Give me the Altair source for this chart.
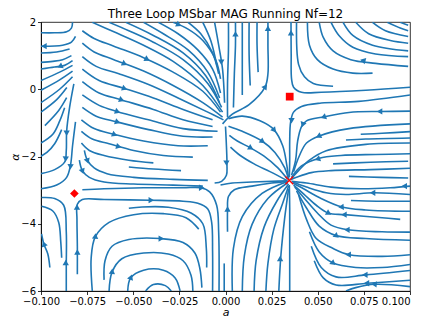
import altair as alt
import pandas as pd

# ---------------- streamlines, (a, alpha) points ----------------
FAN_LEFT = [
    [(-0.0829, 1.99), (-0.0835, 1.82), (-0.0861, 1.71), (-0.0926, 1.68), (-0.1, 1.68)],
    [(-0.0813, 1.57), (-0.0835, 1.40), (-0.0883, 1.31), (-0.1, 1.28)],
    [(-0.0845, 1.20), (-0.0915, 1.11), (-0.1, 1.08)],
    [(-0.0835, 1.0), (-0.0883, 0.88), (-0.0936, 0.83), (-0.1, 0.80)],
    [(-0.0829, 0.85), (-0.0872, 0.71), (-0.0926, 0.66), (-0.1, 0.60)],
    [(-0.0829, 0.71), (-0.0899, 0.51), (-0.1, 0.26)],
    [(-0.0829, 0.54), (-0.0899, 0.28), (-0.1, -0.03)],
    [(-0.0829, 0.37), (-0.0899, 0.0), (-0.1, -0.40)],
    [(-0.086, 0.05), (-0.0915, -0.31), (-0.1, -0.68)],
    [(-0.0861, -0.25), (-0.0904, -0.63), (-0.0979, -1.08)],
    [(-0.0872, -0.55), (-0.0899, -0.95), (-0.0936, -1.34), (-0.1, -1.60)],
    [(-0.0888, -1.20), (-0.0926, -1.62), (-0.0968, -1.88), (-0.1, -1.99)],
    [(-0.0822, 0.16), (-0.0845, -0.54), (-0.0861, -1.25), (-0.0863, -1.82), (-0.0872, -2.17), (-0.0926, -2.39), (-0.1, -2.51)],
    [(-0.0813, -0.97), (-0.0829, -1.68), (-0.084, -2.25), (-0.0861, -2.62), (-0.0915, -2.85), (-0.1, -2.96)],
]

SWEEP = [
    [(-0.0284, 1.99), (-0.0203, 1.79), (-0.0123, 1.45), (-0.0054, 0.88), (-0.0027, 0.31)],
    [(-0.0364, 1.99), (-0.0257, 1.65), (-0.015, 1.17), (-0.007, 0.60), (-0.0027, -0.11)],
    [(-0.0444, 1.99), (-0.0337, 1.65), (-0.0203, 1.17), (-0.0096, 0.51), (-0.0032, -0.26)],
    [(-0.054, 1.99), (-0.0391, 1.60), (-0.023, 1.08), (-0.0107, 0.40), (-0.0032, -0.40)],
    [(-0.0631, 1.99), (-0.0524, 1.74), (-0.0391, 1.40), (-0.023, 0.88), (-0.0096, 0.17), (-0.0021, -0.54)],
    [(-0.0722, 1.99), (-0.0605, 1.71), (-0.0444, 1.31), (-0.0284, 0.83), (-0.0123, 0.11), (-0.0016, -0.68)],
    [(-0.0203, 1.99), (-0.0134, 1.65), (-0.007, 1.08), (-0.0037, 0.46)],
    [(-0.0123, 1.99), (-0.008, 1.45), (-0.0048, 0.74)],
    [(-0.0059, 1.99), (-0.0037, 1.31), (-0.0016, 0.60), (-0.0005, -0.40)],
    [(-0.0776, 1.74), (-0.0712, 1.51), (-0.0605, 1.28), (-0.0444, 0.94), (-0.0284, 0.51), (-0.0123, -0.06), (-0.0027, -0.68)],
    [(-0.0776, 1.37), (-0.0712, 1.11), (-0.0605, 0.88), (-0.0444, 0.54), (-0.0284, 0.11), (-0.0123, -0.40), (-0.0016, -0.83)],
    [(-0.0776, 0.97), (-0.0701, 0.68), (-0.0578, 0.46), (-0.0417, 0.14), (-0.0257, -0.26), (-0.0096, -0.68), (-0.0011, -0.91)],
    [(-0.0776, 0.60), (-0.0685, 0.26), (-0.0551, 0.03), (-0.0391, -0.26), (-0.023, -0.60), (-0.007, -0.91)],
    [(-0.0776, 0.23), (-0.0685, -0.11), (-0.0567, -0.31), (-0.0391, -0.60), (-0.023, -0.91), (-0.007, -1.11)],
    [(-0.0776, -0.17), (-0.0685, -0.48), (-0.0589, -0.66), (-0.0417, -0.91), (-0.023, -1.17), (-0.0043, -1.25)],
    [(-0.0776, -0.54), (-0.0701, -0.80), (-0.0589, -0.97), (-0.0417, -1.20), (-0.023, -1.40), (-0.007, -1.42)],
    [(-0.0781, -0.91), (-0.0712, -1.17), (-0.0605, -1.34), (-0.0444, -1.54), (-0.0257, -1.68), (-0.0096, -1.68)],
    [(-0.0781, -1.25), (-0.0722, -1.48), (-0.0631, -1.62), (-0.0498, -1.82), (-0.0337, -1.97), (-0.0177, -2.02)],
    [(-0.0781, -1.60), (-0.0738, -1.82), (-0.0658, -1.97), (-0.0524, -2.11), (-0.0391, -2.19)],
    [(-0.0524, -2.31), (-0.0391, -2.37), (-0.0241, -2.42)],
    [(-0.0765, -1.82), (-0.0749, -2.11), (-0.0712, -2.34), (-0.0642, -2.51), (-0.0498, -2.62), (-0.0284, -2.68), (-0.0096, -2.71)],
    [(-0.0792, -2.11), (-0.0776, -2.42), (-0.0738, -2.62), (-0.0658, -2.76), (-0.0498, -2.82), (-0.0284, -2.85), (-0.0123, -2.88)],
]

SADDLE = [
    [(-0.0776, -2.99), (-0.0658, -2.96), (-0.0444, -2.93), (-0.023, -2.93), (-0.0134, -2.93), (-0.0086, -3.05),
     (-0.0048, -3.45), (-0.0037, -4.25), (-0.0035, -6.0)],
    [(-0.0803, -5.50), (-0.0803, -4.67), (-0.0805, -3.87), (-0.0803, -3.42), (-0.0776, -3.28), (-0.0658, -3.28),
     (-0.0407, -3.30), (-0.023, -3.33), (-0.015, -3.39), (-0.0096, -3.56), (-0.0075, -3.96), (-0.007, -4.81), (-0.007, -6.0)],
]

UPPER_MID = [
    [(-0.0016, -1.03), (0.0037, -0.74), (0.0128, -0.46), (0.0214, 0.06), (0.023, 0.46), (0.023, 1.31), (0.023, 1.99)],
    [(0.0011, -0.83), (0.0011, 0.17), (0.0016, 1.17), (0.0016, 1.99)],
    [(0.0043, -0.54), (0.0048, 0.46), (0.0054, 1.31), (0.0054, 1.99)],
    [(0.0091, -0.17), (0.0091, 0.74), (0.0091, 1.60), (0.0091, 1.99)],
    [(0.0134, 0.11), (0.0128, 1.03), (0.0128, 1.99)],
    [(0.0177, 0.51), (0.0171, 1.31), (0.0171, 1.99)],
]

UPPER_RIGHT = [
    [(0.1, 0.06), (0.076, -0.03), (0.0519, -0.09), (0.0412, -0.09), (0.0369, 0.06), (0.0358, 0.31), (0.0356, 1.03), (0.0355, 2.0)],
    [(0.0385, 1.99), (0.0396, 0.74), (0.0428, 0.37), (0.0476, 0.17), (0.0583, 0.09)],
    [(0.0444, 1.99), (0.0455, 1.31), (0.0498, 0.88), (0.0583, 0.60), (0.069, 0.48), (0.0797, 0.48)],
    [(0.0508, 1.99), (0.053, 1.54), (0.0583, 1.14), (0.0679, 0.88), (0.0813, 0.77), (0.099, 0.68)],
    [(0.0572, 1.99), (0.0615, 1.60), (0.069, 1.25), (0.0813, 1.05), (0.099, 0.97)],
    [(0.0637, 1.99), (0.069, 1.60), (0.0797, 1.31), (0.099, 1.14)],
    [(0.0706, 1.99), (0.0776, 1.65), (0.0893, 1.45), (0.099, 1.37)],
    [(0.0797, 1.99), (0.0867, 1.74), (0.099, 1.57)],
    [(0.0877, 1.99), (0.0947, 1.82), (0.099, 1.74)],
    [(0.0947, 1.99), (0.099, 1.90)],
    [(0.1, -0.17), (0.0722, -0.36), (0.0519, -0.41), (0.0412, -0.51), (0.0369, -0.68), (0.0353, -0.97), (0.0348, -1.54), (0.0348, -2.11), (0.0346, -2.62)],
    [(0.1, -0.65), (0.084, -0.66), (0.0669, -0.69), (0.0535, -0.82), (0.0439, -0.94), (0.0412, -1.11), (0.0391, -1.54), (0.038, -2.11), (0.0358, -2.56)],
    [(0.1, -1.03), (0.0669, -1.17), (0.0508, -1.39), (0.0439, -1.60), (0.0401, -1.97), (0.0369, -2.45)],
    [(0.1, -1.26), (0.0849, -1.31), (0.0733, -1.34)],
    [(0.1, -1.45), (0.076, -1.48), (0.0653, -1.51)],
    [(0.1, -1.60), (0.076, -1.64), (0.0546, -1.83), (0.0455, -2.11), (0.0391, -2.45), (0.0358, -2.65)],
]

JUNCTION_DOWN = [
    [(0.0016, -0.88), (0.0091, -0.80), (0.0187, -0.94), (0.0262, -1.20), (0.031, -1.68), (0.0332, -2.25), (0.0342, -2.68)],
    [(0.0016, -1.10), (0.0091, -1.25), (0.0198, -1.54), (0.0268, -1.88), (0.0321, -2.34), (0.0342, -2.68)],
    [(0.0021, -1.37), (0.0064, -1.54), (0.0134, -1.74), (0.0209, -1.99), (0.0284, -2.34), (0.0337, -2.68)],
    [(0.0027, -1.72), (0.008, -1.97), (0.0155, -2.22), (0.0241, -2.45), (0.0332, -2.71)],
    [(0.0, -1.11), (0.0005, -1.68), (0.0008, -2.25), (0.0005, -2.56), (-0.0021, -2.74), (-0.0059, -2.79)],
    [(-0.0027, -2.85), (0.0037, -2.79), (0.0144, -2.76), (0.0251, -2.74), (0.0337, -2.72)],
    [(0.0037, -6.0), (0.0043, -4.73), (0.0091, -3.79), (0.0198, -3.10), (0.0337, -2.74)],
    [(0.0091, -6.0), (0.0102, -4.96), (0.0144, -4.02), (0.023, -3.25), (0.0337, -2.78)],
    [(0.0155, -6.0), (0.0166, -5.10), (0.0209, -4.10), (0.0278, -3.33), (0.0342, -2.82)],
    [(0.0219, -6.0), (0.023, -5.18), (0.0262, -4.16), (0.031, -3.39), (0.0342, -2.88)],
    [(0.0289, -6.0), (0.03, -4.96), (0.0321, -3.82), (0.0342, -2.96)],
    [(0.0348, -6.0), (0.0348, -4.67), (0.0348, -3.53), (0.0346, -2.85)],
    [(-0.0007, -6.0), (-0.0007, -5.18)],
    [(0.0011, -4.24), (0.0011, -3.59), (0.0016, -3.19), (0.0048, -2.99), (0.0144, -2.88), (0.0251, -2.79), (0.0337, -2.74)],
]

RIGHT_LOWER = [
    [(0.1, -1.92), (0.0813, -1.94), (0.0626, -1.97), (0.0508, -2.05), (0.0412, -2.28), (0.0358, -2.62)],
    [(0.099, -2.14), (0.0786, -2.17), (0.0583, -2.22)],
    [(0.1, -2.35), (0.0786, -2.39), (0.0572, -2.42), (0.0465, -2.48), (0.0385, -2.62), (0.0353, -2.69)],
    [(0.099, -2.64), (0.084, -2.62), (0.0669, -2.59)],
    [(0.1, -2.88), (0.0893, -2.93), (0.0733, -2.96), (0.0572, -2.91), (0.0439, -2.79), (0.0358, -2.74)],
    [(0.1, -3.13), (0.0802, -3.08), (0.0653, -3.13), (0.0546, -3.08), (0.0439, -2.91), (0.0364, -2.76)],
    [(0.1, -3.33), (0.082, -3.33), (0.068, -3.31)],
    [(0.1, -3.63), (0.076, -3.59), (0.0631, -3.50), (0.0508, -3.22), (0.0423, -2.96), (0.0364, -2.79)],
    [(0.0947, -3.87), (0.0849, -3.82), (0.0647, -3.73), (0.0556, -3.68), (0.0492, -3.45), (0.0423, -3.11), (0.0369, -2.85)],
    [(0.1, -4.25), (0.0849, -4.24), (0.0663, -4.18), (0.0572, -4.04), (0.0498, -3.68), (0.0428, -3.25), (0.0375, -2.91)],
    [(0.1, -4.49), (0.076, -4.44), (0.0599, -4.35), (0.0508, -4.07), (0.0439, -3.53), (0.0385, -3.02)],
    [(0.1, -4.92), (0.0849, -4.97), (0.067, -4.92), (0.0581, -4.73), (0.0492, -4.44), (0.0439, -3.87), (0.0396, -3.13)],
    [(0.1, -5.21), (0.0849, -5.30), (0.0706, -5.30), (0.0581, -5.16), (0.0508, -4.84), (0.0455, -4.24)],
    [(0.1, -5.39), (0.076, -5.52), (0.0599, -5.58), (0.0519, -5.30), (0.0465, -4.67)],
    [(0.1, -5.68), (0.0769, -5.77), (0.0599, -5.82), (0.053, -5.61), (0.0481, -5.10)],
    [(0.1, -5.87), (0.081, -5.80), (0.0706, -5.90), (0.0653, -6.0)],
]

BOTTOM_LEFT = [
    [(-0.0997, -3.22), (-0.0926, -3.25), (-0.0877, -3.45), (-0.0863, -4.24), (-0.0863, -5.24), (-0.0863, -6.0)],
    [(-0.0997, -3.48), (-0.0936, -3.62), (-0.0904, -3.96), (-0.0893, -4.53), (-0.0888, -5.01)],
    [(-0.0952, -5.30), (-0.0963, -4.90), (-0.0984, -4.61), (-0.0997, -4.30)],
    [(-0.0524, -3.54), (-0.0452, -3.50), (-0.031, -3.51), (-0.0187, -3.68), (-0.0123, -4.0), (-0.0104, -4.73), (-0.0102, -5.3)],
    [(-0.0722, -6.0), (-0.0728, -5.01), (-0.0706, -4.39), (-0.0631, -3.96), (-0.0498, -3.73), (-0.0337, -3.70), (-0.0214, -3.82), (-0.0145, -4.16)],
    [(-0.0658, -5.67), (-0.0653, -5.10), (-0.0615, -4.67), (-0.0524, -4.47), (-0.0353, -4.44), (-0.023, -4.56), (-0.0166, -4.87), (-0.0139, -5.33), (-0.0128, -5.90)],
    [(-0.0631, -6.0), (-0.0615, -5.44), (-0.0562, -5.04), (-0.0444, -4.87), (-0.031, -4.90), (-0.023, -5.10), (-0.0187, -5.53), (-0.0177, -6.0)],
    [(-0.053, -6.0), (-0.0514, -5.61), (-0.0444, -5.38), (-0.0337, -5.38), (-0.0273, -5.61), (-0.0246, -6.0)],
    [(-0.0433, -6.0), (-0.0391, -5.81), (-0.0326, -5.84), (-0.0294, -6.0)],
]

# arrow heads: (a, alpha, direction in degrees clockwise from "up")
ARROWS = [
    (-0.0979, 1.28, 270), (-0.0893, 0.69, 245), (-0.0861, -1.28, 180), (-0.0866, -2.05, 182), (-0.084, -2.28, 182),
    (-0.0257, 1.93, 115), (-0.0428, 0.90, 117), (-0.0551, 0.77, 115), (-0.0551, 0.03, 110), (-0.0567, -0.31, 110),
    (-0.0589, -0.66, 110), (-0.0589, -0.97, 110), (-0.0605, -1.34, 112), (-0.0583, -1.70, 105), (-0.0023, 0.83, 180),
    (-0.0749, -2.11, 160), (-0.0776, -2.42, 160), (-0.0134, -2.93, 90),
    (-0.0803, -4.87, 0), (-0.0805, -3.53, 0), (-0.0407, -3.30, 90),
    (0.0054, 1.62, 0), (0.023, 1.79, 0), (0.0355, 1.65, 0), (0.0214, 0.06, 35), (0.0749, 0.85, 285),
    (0.0358, -0.91, 180), (0.084, -0.66, 270), (0.0535, -0.82, 250), (0.042, -1.03, 200), (0.0508, -1.39, 245),
    (0.0262, -1.20, 140), (0.0198, -1.54, 125), (0.0134, -1.74, 120), (0.0005, -2.17, 180),
    (0.0011, -3.59, 0), (0.0296, -5.06, 0),
    (0.0503, -2.07, 250), (0.0974, -2.88, 270), (0.0802, -3.08, 270), (0.0631, -3.50, 265), (0.0647, -3.73, 270),
    (0.0556, -3.68, 240), (0.0663, -4.18, 270), (0.0599, -4.35, 250), (0.067, -4.92, 270), (0.0581, -5.16, 250),
    (0.076, -5.52, 270), (0.0769, -5.77, 270), (0.081, -5.80, 275),
    (-0.0866, -5.18, 0), (-0.0983, -4.62, 340), (-0.0706, -4.39, 5), (-0.0353, -4.44, 90), (-0.0615, -5.44, 5),
    (-0.0514, -5.61, 20),
]

FIXED_A = [0.0348, -0.0819, 0.0346]
FIXED_ALPHA = [-0.22, -3.10, -2.71]

TITLE = "Three Loop MSbar MAG Running Nf=12"
X_TICKS = [-0.1, -0.075, -0.05, -0.025, 0.0, 0.025, 0.05, 0.075, 0.1]
Y_TICKS = [-6, -5, -4, -3, -2, -1, 0, 1, 2]

# ---------------- build tables ----------------
rows = []
groups = [("fan", FAN_LEFT), ("sweep", SWEEP), ("saddle", SADDLE), ("umid", UPPER_MID),
          ("uright", UPPER_RIGHT), ("jdown", JUNCTION_DOWN), ("rlow", RIGHT_LOWER), ("bleft", BOTTOM_LEFT)]
for gname, group in groups:
    for i, line in enumerate(group):
        for k, (a, al) in enumerate(line):
            rows.append({"line": f"{gname}{i}", "k": k, "a": a, "alpha": al})
lines_df = pd.DataFrame(rows)
arrow_df = pd.DataFrame(ARROWS, columns=["a", "alpha", "dir"])

BLUE = "#1f77b4"
xscale = alt.Scale(domain=[-0.1, 0.1], nice=False, zero=False)
yscale = alt.Scale(domain=[-6, 2], nice=False, zero=False)

x_axis = alt.Axis(
    values=X_TICKS,
    labelExpr="replace(format(datum.value, '.3f'), '-', '\u2212')",
    labelAlign={"condition": {"test": "datum.value > 0.099", "value": "right"}, "value": "center"},
    title="a",
    titlePadding=0,
)
y_axis = alt.Axis(
    values=Y_TICKS,
    labelExpr="replace(format(datum.value, 'd'), '-', '\u2212')",
    title="\u03b1",
    titlePadding=0,
)

X = alt.X("a:Q", scale=xscale, axis=x_axis)
Y = alt.Y("alpha:Q", scale=yscale, axis=y_axis)

lines = alt.Chart(lines_df).mark_line(
    interpolate="catmull-rom", color=BLUE, strokeWidth=1.6, clip=True
).encode(x=X, y=Y, detail="line:N", order="k:Q")

arrows = alt.Chart(arrow_df).mark_point(
    shape="triangle", filled=True, color=BLUE, size=40, opacity=1, strokeWidth=0
).encode(x=alt.X("a:Q", scale=xscale), y=alt.Y("alpha:Q", scale=yscale), angle=alt.Angle("dir:Q", scale=None))

fixed_df = pd.DataFrame({"a": FIXED_A, "alpha": FIXED_ALPHA})
square = alt.Chart(fixed_df.iloc[[0]]).mark_point(
    shape="square", filled=True, color="red", size=60, opacity=1
).encode(x=alt.X("a:Q", scale=xscale), y=alt.Y("alpha:Q", scale=yscale))
diamond = alt.Chart(fixed_df.iloc[[1]]).mark_point(
    shape="diamond", filled=True, color="red", size=75, opacity=1
).encode(x=alt.X("a:Q", scale=xscale), y=alt.Y("alpha:Q", scale=yscale))
cross = alt.Chart(fixed_df.iloc[[2]]).mark_point(
    shape="M-1,-1L1,1M-1,1L1,-1", filled=False, color="red", size=60, strokeWidth=1.3, opacity=1
).encode(x=alt.X("a:Q", scale=xscale), y=alt.Y("alpha:Q", scale=yscale))

chart = alt.layer(lines, arrows, square, diamond, cross).properties(
    width=369,
    height=269,
    title=alt.TitleParams(TITLE, font="DejaVu Sans", fontSize=12, fontWeight="normal", color="black",
                          offset=0, dy=4),
    autosize=alt.AutoSizeParams(type="none"),
    padding={"left": 33, "top": 14, "right": 7, "bottom": 28},
).configure_view(stroke="black", strokeWidth=0.8).configure_axis(
    grid=False, domainColor="black", domainWidth=0.8, tickColor="black", tickWidth=0.8, tickSize=3.5,
    labelFont="DejaVu Sans", labelFontSize=10, labelColor="black", labelPadding=2,
    titleFont="DejaVu Sans", titleFontSize=11, titleFontWeight="normal", titleFontStyle="italic", titleColor="black",
)

chart.save("out.html", embed_options={"renderer": "svg", "actions": False})
